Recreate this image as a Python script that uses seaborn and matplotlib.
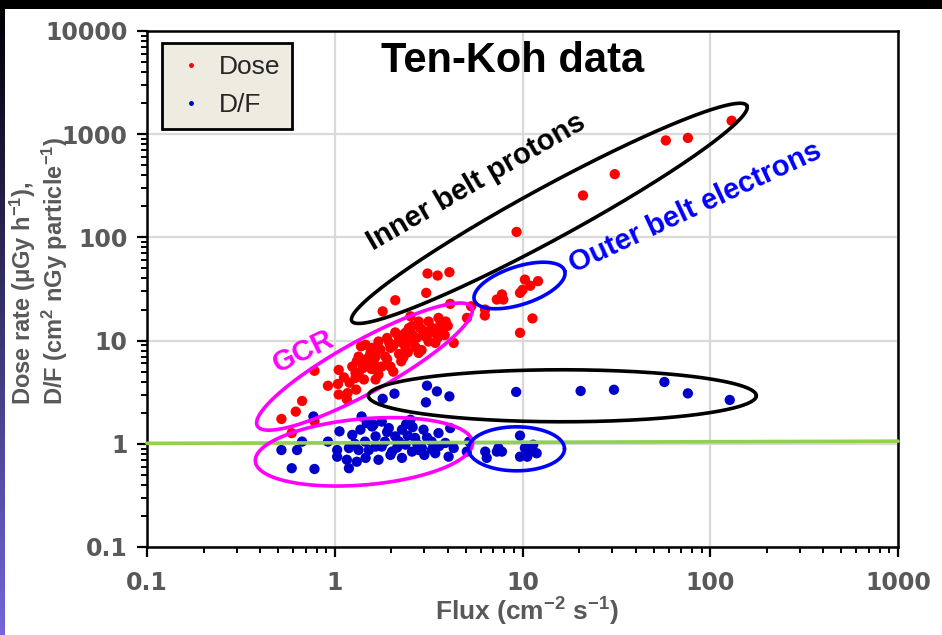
import numpy as np
import pandas as pd
import matplotlib
matplotlib.use("Agg")
import matplotlib.pyplot as plt
from matplotlib.patches import Rectangle
from matplotlib.lines import Line2D
import seaborn as sns

sns.set_style("white")
plt.rcParams["font.family"] = ["Liberation Sans", "DejaVu Sans"]
plt.rcParams["mathtext.fontset"] = "custom"
plt.rcParams["mathtext.rm"] = "Liberation Sans:bold"
plt.rcParams["mathtext.bf"] = "Liberation Sans:bold"
plt.rcParams["mathtext.it"] = "Liberation Sans:bold"

# ---------------- data ----------------
gcr_dose_flux = [0.52, 0.59, 0.62, 0.67, 0.78, 0.78, 0.92, 1.04, 1.05, 1.05, 1.16, 1.17, 1.24, 1.29,
                 1.29, 1.30, 1.34, 1.34, 1.43, 1.46, 1.48, 1.55, 1.58, 1.65, 1.65, 1.65, 1.71, 1.71,
                 1.78, 1.86, 1.90, 1.90, 1.98, 1.98, 2.05, 2.05, 2.10, 2.16, 2.19, 2.26, 2.32, 2.33,
                 2.38, 2.38, 2.45, 2.48, 2.53, 2.58, 2.60, 2.73, 2.80, 2.80, 2.86, 2.90, 3.03, 3.16,
                 3.16, 3.28, 3.36, 3.43, 3.53, 3.57, 3.60, 3.65, 3.75, 3.85, 3.90, 4.00, 4.30, 1.38,
                 1.52, 1.43, 1.61, 1.31, 1.12, 1.20, 1.41, 1.57, 1.75, 2.20, 2.60, 2.95, 1.95, 2.70,
                 3.20, 2.35, 1.55]
gcr_dose = [1.74, 1.27, 2.05, 2.6, 1.65, 5.1, 3.65, 3.8, 5.2, 3.0, 2.7, 3.1, 5.6, 4.85,
            4.35, 3.35, 7.0, 4.85, 4.2, 9.1, 5.8, 7.6, 8.5, 7.0, 5.6, 4.2, 9.8, 4.7,
            5.6, 7.0, 6.6, 10.6, 8.5, 5.6, 5.0, 8.9, 12.0, 11.4, 9.8, 6.3, 6.9, 9.3,
            11.9, 8.2, 7.7, 13.2, 17.2, 13.8, 9.5, 10.6, 15.3, 7.6, 13.2, 8.1, 11.0, 15.3,
            9.8, 13.3, 12.8, 9.5, 10.6, 16.6, 11.6, 14.3, 12.8, 11.3, 15.3, 13.9, 9.5, 8.8,
            6.9, 6.5, 6.3, 6.3, 4.4, 3.9, 5.4, 5.3, 8.2, 7.4, 11.4, 12.5, 9.5, 8.6,
            11.9, 10.6, 6.0]

belt_dose_flux = [130, 58, 76, 31, 21, 9.3, 3.12, 3.53, 4.08, 3.07, 2.10, 1.80, 4.12, 5.06,
                  5.33, 6.32, 6.3, 7.3, 7.77, 7.9, 9.7, 10.3, 11.0, 12.1, 10.0, 11.3, 9.7]
belt_dose = [1350, 870, 920, 410, 255, 113, 44.7, 42.7, 46, 29, 24.6, 19.2, 22.7, 16.6,
             21.5, 20, 17.5, 25, 28, 25, 29, 39, 34, 37.7, 31, 16.4, 11.9]

df_flux = [1.80, 2.08, 3.10, 3.5, 4.08, 3.06, 9.25, 20.4, 30.7, 57, 76, 127,
           0.77, 1.39, 1.06, 1.24, 1.37, 1.48, 1.61, 0.67, 0.92, 0.52, 0.63, 1.03,
           1.19, 1.34, 1.52, 1.03, 1.16, 1.31, 0.59, 0.78, 1.19, 1.46, 1.65, 1.65,
           1.78, 2.53, 4.12, 1.58, 1.94, 2.28, 2.97, 3.57, 2.1, 2.68, 3.28, 3.88,
           1.78, 2.38, 2.91, 4.3, 2.02, 2.58, 3.43, 1.71, 2.28, 1.98, 2.8, 5.05,
           4.04, 5.2, 2.2, 2.45, 1.85, 3.1, 2.75, 3.6, 1.45, 2.15, 3.0, 1.28,
           2.6, 3.3, 1.9, 2.4,
           6.33, 6.45, 7.44, 7.77, 7.3, 9.7, 9.7, 10.3, 10.6, 11.4, 11.9, 11.0]
df_value = [2.73, 3.06, 3.66, 3.22, 2.88, 2.52, 3.18, 3.25, 3.34, 3.97, 3.08, 2.66,
            1.84, 1.84, 1.32, 1.22, 1.37, 1.59, 1.53, 1.05, 1.05, 0.87, 0.87, 0.87,
            0.91, 0.87, 0.87, 0.75, 0.70, 0.67, 0.58, 0.57, 0.58, 0.73, 0.94, 1.18,
            1.64, 1.71, 1.42, 1.47, 1.42, 1.37, 1.37, 1.27, 1.18, 1.14, 1.05, 1.02,
            0.94, 0.98, 0.91, 0.91, 0.84, 0.84, 0.81, 0.70, 0.73, 0.78, 0.87, 0.84,
            0.75, 1.05, 1.05, 1.2, 1.05, 1.15, 1.0, 0.95, 1.05, 0.92, 0.78, 1.0,
            1.45, 0.88, 1.3, 1.55,
            0.84, 0.73, 0.91, 0.84, 0.84, 1.20, 0.75, 0.91, 0.75, 0.98, 0.81, 0.84]

ref_line_flux = [0.1, 1000]
ref_line_value = [1.01, 1.06]

x_ticks = [0.1, 1, 10, 100, 1000]
x_tick_labels = ["0.1", "1", "10", "100", "1000"]
y_ticks = [0.1, 1, 10, 100, 1000, 10000]
y_tick_labels = ["0.1", "1", "10", "100", "1000", "10000"]

dose_df = pd.DataFrame({"flux": gcr_dose_flux + belt_dose_flux, "value": gcr_dose + belt_dose})
df_df = pd.DataFrame({"flux": df_flux, "value": df_value})

# ---------------- figure ----------------
W, H = 942, 635
fig = plt.figure(figsize=(W / 100, H / 100), dpi=100)
fig.patch.set_facecolor("white")

# top black band and left gradient strip
fig.patches.append(Rectangle((0, 1 - 9 / H), 1, 9 / H, transform=fig.transFigure,
                             facecolor="black", edgecolor="none", zorder=0))
gax = fig.add_axes([0, 0, 5 / W, 1 - 9 / H])
grad = np.linspace(0, 1, 256)[:, None]
top_c = np.array([0.0, 0.0, 0.02])
bot_c = np.array([0.45, 0.40, 0.85])
img = top_c[None, None, :] * (1 - grad[:, :, None]) + bot_c[None, None, :] * grad[:, :, None]
gax.imshow(img, aspect="auto")
gax.set_axis_off()

ax = fig.add_axes([147 / W, (H - 547) / H, (898 - 147) / W, (547 - 31) / H])
ax.set_xscale("log")
ax.set_yscale("log")
ax.set_xlim(0.1, 1000)
ax.set_ylim(0.1, 10000)

ax.grid(True, which="major", color="#D9D9D9", lw=1.6, zorder=0)
ax.set_axisbelow(True)

sns.scatterplot(data=dose_df, x="flux", y="value", ax=ax, color="#FF0000", s=55,
                edgecolor="none", linewidth=0, zorder=3, legend=False)
sns.scatterplot(data=df_df, x="flux", y="value", ax=ax, color="#0000C8", s=55,
                edgecolor="none", linewidth=0, zorder=3, legend=False)

ax.plot(ref_line_flux, ref_line_value, color="#92D050", lw=2.6, zorder=4, clip_on=False)

for sp in ax.spines.values():
    sp.set_visible(True)
    sp.set_color("black")
    sp.set_linewidth(1.8)

ax.set_xticks(x_ticks)
ax.set_xticklabels(x_tick_labels)
ax.set_yticks(y_ticks)
ax.set_yticklabels(y_tick_labels)
ax.tick_params(which="major", direction="out", length=7, width=1.6, color="black",
               labelsize=17, labelcolor="#595959", left=True, bottom=True)
ax.tick_params(axis="x", pad=10)
ax.tick_params(axis="y", pad=7)
ax.tick_params(which="minor", direction="out", length=4.5, width=1.4, color="black",
               left=True, bottom=True)
for lab in ax.get_xticklabels() + ax.get_yticklabels():
    lab.set_fontweight("bold")
    lab.set_family(["DejaVu Sans"])
ax.set_xlabel("")
ax.set_ylabel("")

fig.text(527 / W, (H - 612) / H, r"Flux (cm$^{-2}$ s$^{-1}$)", ha="center", va="center",
         fontsize=19, fontweight="bold", color="#595959")
fig.text(39 / W, (H - 271) / H,
         "Dose rate ($\\mu$Gy h$^{-1}$),\nD/F (cm$^{2}$ nGy particle$^{-1}$)",
         rotation=90, ha="center", va="center", multialignment="left",
         fontsize=17, fontweight="bold", color="#595959", linespacing=1.1)

# ---------------- legend ----------------
handles = [Line2D([], [], ls="none", marker="o", ms=2.5, color="#FF0000"),
           Line2D([], [], ls="none", marker="o", ms=2.5, color="#0000C8")]
leg = ax.legend(handles, ["Dose", "D/F"], loc="upper left", bbox_to_anchor=(0.02, 0.977),
                borderaxespad=0, fontsize=19, frameon=True, fancybox=False,
                handlelength=1.3, handletextpad=0.4, borderpad=0.45, labelspacing=0.55)
fr = leg.get_frame()
fr.set_facecolor("#EEECE1")
fr.set_edgecolor("black")
fr.set_linewidth(2.0)
fr.set_alpha(1)

# ---------------- annotations ----------------
def px2data(px, py):
    return 10 ** ((px - 336) / 188.0), 10 ** ((444 - py) / 103.0)

ax.text(*px2data(514, 62), "Ten-Koh data", ha="center", va="center", fontsize=30,
        fontweight="bold", color="black", zorder=6)
ax.text(*px2data(478, 183), "Inner belt protons", ha="center", va="center", fontsize=21,
        fontweight="bold", color="black", rotation=30, rotation_mode="anchor", zorder=6)
ax.text(*px2data(697, 208), "Outer belt electrons", ha="center", va="center", fontsize=21,
        fontweight="bold", color="#0000FF", rotation=25, rotation_mode="anchor", zorder=6)
ax.text(*px2data(305, 352), "GCR", ha="center", va="center", fontsize=21,
        fontweight="bold", color="#FF00FF", rotation=26, rotation_mode="anchor", zorder=6)

fig.canvas.draw()

def draw_ellipse(cx, cy, w, h, ang, color):
    X, Y = ax.transData.transform((cx, cy))
    t = np.linspace(0, 2 * np.pi, 400)
    th = np.deg2rad(ang)
    a, b = w / 2.0, h / 2.0
    xs = X + a * np.cos(t) * np.cos(th) - b * np.sin(t) * np.sin(th)
    ys = Y + a * np.cos(t) * np.sin(th) + b * np.sin(t) * np.cos(th)
    pts = ax.transData.inverted().transform(np.column_stack([xs, ys]))
    ax.plot(pts[:, 0], pts[:, 1], color=color, lw=2.6, zorder=5)

ellipses = [
    (13.9, 171, 450, 52, 28.6, "black"),
    (1.44, 5.6, 245, 52, 29, "#FF00FF"),
    (1.43, 0.836, 218, 66, 5, "#FF00FF"),
    (9.64, 34.2, 95, 38, 18, "#0000FF"),
    (16.3, 2.92, 388, 52, 0, "black"),
    (9.29, 0.894, 96, 44, 0, "#0000FF"),
]
for e in ellipses:
    draw_ellipse(*e)

ax.set_xlim(0.1, 1000)
ax.set_ylim(0.1, 10000)

fig.savefig("out.png", dpi=100)
